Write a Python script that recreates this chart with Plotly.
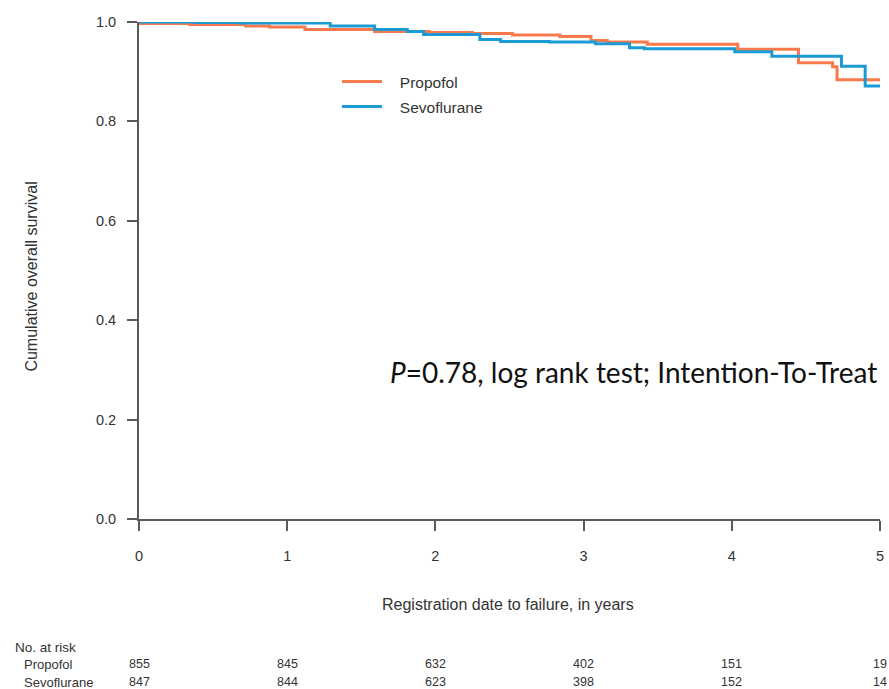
import plotly.graph_objects as go

# Kaplan-Meier step data (years, survival)
propofol_t = [0.0, 0.01, 0.34, 0.72, 0.88, 1.12, 1.59, 1.96, 2.25, 2.52, 2.84, 3.05, 3.16, 3.43, 4.04, 4.45, 4.68, 4.71, 5.01]
propofol_s = [1.0, 0.997, 0.995, 0.992, 0.990, 0.985, 0.981, 0.979, 0.977, 0.974, 0.971, 0.963, 0.960, 0.955, 0.945, 0.918, 0.910, 0.884, 0.884]
sevo_t = [0.0, 0.38, 0.68, 1.29, 1.59, 1.81, 1.92, 2.30, 2.44, 2.77, 3.08, 3.31, 3.41, 4.02, 4.27, 4.74, 4.90, 5.01]
sevo_s = [1.0, 0.999, 0.998, 0.992, 0.985, 0.981, 0.975, 0.965, 0.961, 0.960, 0.956, 0.948, 0.946, 0.940, 0.931, 0.911, 0.871, 0.871]

risk_times = [0, 1, 2, 3, 4, 5]
risk_propofol = [855, 845, 632, 402, 151, 19]
risk_sevo = [847, 844, 623, 398, 152, 14]

x_ticks = [0, 1, 2, 3, 4, 5]
y_ticks = [0.0, 0.2, 0.4, 0.6, 0.8, 1.0]

ORANGE = "#F87A4C"
BLUE = "#1B9BD4"
AX = "#5a5a5a"
TXT = "#333333"
FONT = "Liberation Sans, Arial, sans-serif"

fig = go.Figure()
fig.add_trace(go.Scatter(x=propofol_t, y=propofol_s, mode="lines", name="&nbsp;&nbsp;&nbsp;Propofol",
                         legend="legend", line=dict(color=ORANGE, width=3, shape="hv"), cliponaxis=False))
fig.add_trace(go.Scatter(x=sevo_t, y=sevo_s, mode="lines", name="&nbsp;&nbsp;&nbsp;Sevoflurane",
                         legend="legend2", line=dict(color=BLUE, width=3, shape="hv"), cliponaxis=False))

W, H = 889, 689
L, R, T, B = 139, 5, 22, 170
ph = H - T - B

def py(pix):
    return 1 - (pix - T) / ph

def px(pix):
    return (pix - L) / (W - L - R)

ann = []
ann.append(dict(text="No. at risk", x=px(12), y=py(647), xref="paper", yref="paper",
                xanchor="left", yanchor="middle", showarrow=False, font=dict(size=13.5, color=TXT, family=FONT)))
ann.append(dict(text="Propofol", x=px(21), y=py(664), xref="paper", yref="paper",
                xanchor="left", yanchor="middle", showarrow=False, font=dict(size=13, color=TXT, family=FONT)))
ann.append(dict(text="Sevoflurane", x=px(21), y=py(682), xref="paper", yref="paper",
                xanchor="left", yanchor="middle", showarrow=False, font=dict(size=13, color=TXT, family=FONT)))
for t, a, b in zip(risk_times, risk_propofol, risk_sevo):
    ann.append(dict(text=str(a), x=t, y=py(664), xref="x", yref="paper", xanchor="center",
                    yanchor="middle", showarrow=False, font=dict(size=12.5, color=TXT, family=FONT)))
    ann.append(dict(text=str(b), x=t, y=py(682), xref="x", yref="paper", xanchor="center",
                    yanchor="middle", showarrow=False, font=dict(size=12.5, color=TXT, family=FONT)))
ann.append(dict(text="Registration date to failure, in years", x=px(510), y=py(604), xref="paper", yref="paper",
                xanchor="center", yanchor="middle", showarrow=False, font=dict(size=16, color=TXT, family=FONT)))
ann.append(dict(text="Cumulative overall survival", x=px(30), y=py(277), xref="paper", yref="paper",
                textangle=-90, xanchor="center", yanchor="middle", showarrow=False,
                font=dict(size=16, color=TXT, family=FONT)))
ann.append(dict(text="<i>P</i>=0.78, log rank test; Intention-To-Treat", x=px(883), y=py(372),
                xref="paper", yref="paper", xanchor="right", yanchor="middle", showarrow=False,
                font=dict(size=28, color="#111111", family="Lato, Open Sans, sans-serif")))

leg_common = dict(xanchor="left", yanchor="middle", bgcolor="rgba(0,0,0,0)",
                  font=dict(size=15.5, color=TXT, family=FONT), itemwidth=40)

fig.update_layout(
    width=W, height=H,
    margin=dict(l=L, r=R, t=T, b=B),
    paper_bgcolor="white", plot_bgcolor="white",
    showlegend=True,
    legend=dict(x=px(338), y=py(82), **leg_common),
    legend2=dict(x=px(338), y=py(107), **leg_common),
    annotations=ann,
    xaxis=dict(range=[0, 5], tickvals=x_ticks, ticktext=[str(v) for v in x_ticks],
               showline=True, linecolor=AX, linewidth=2, ticks="outside", ticklen=10,
               tickcolor=AX, tickwidth=2, showgrid=False, zeroline=False,
               tickfont=dict(size=14.5, color=TXT, family=FONT), ticklabelstandoff=13),
    yaxis=dict(range=[0, 1.0], tickvals=y_ticks, ticktext=[f"{v:.1f}" for v in y_ticks],
               showline=True, linecolor=AX, linewidth=2, ticks="outside", ticklen=10,
               tickcolor=AX, tickwidth=2, showgrid=False, zeroline=False,
               tickfont=dict(size=14.5, color=TXT, family=FONT), ticklabelstandoff=8),
)

fig.write_html("out.html")
